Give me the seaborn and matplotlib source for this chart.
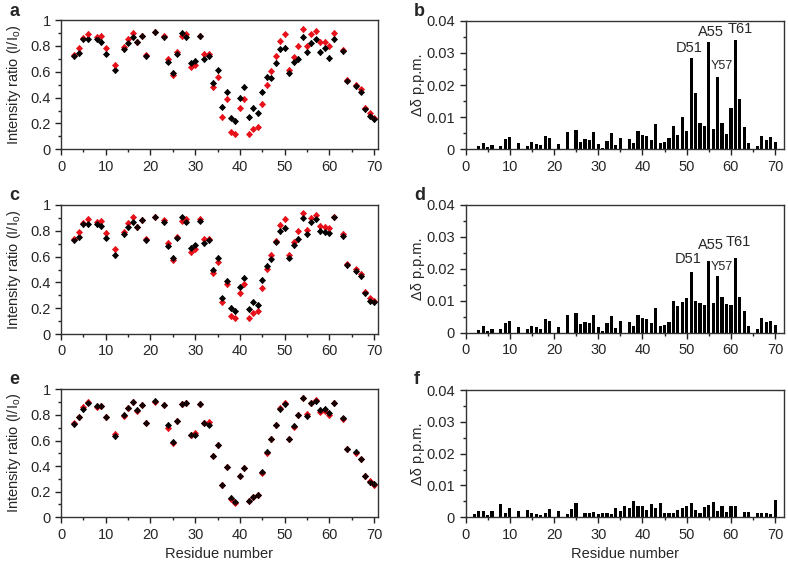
import numpy as np
import pandas as pd
import seaborn as sns
import matplotlib.pyplot as plt
from matplotlib.ticker import MultipleLocator, FormatStrFormatter

# residues with intensity data (panels a, c, e)
residues = [3, 4, 5, 6, 8, 9, 10, 12, 14, 15, 16, 17, 18, 19, 21, 23, 24, 25, 26, 27,
            28, 29, 30, 31, 32, 33, 34, 35, 36, 37, 38, 39, 40, 41, 42, 43, 44, 45, 46, 47,
            48, 49, 50, 51, 52, 53, 54, 55, 56, 57, 58, 59, 60, 61, 63, 64, 66, 67, 68, 69, 70]

a_black = [0.72, 0.747, 0.85, 0.85, 0.85, 0.83, 0.74, 0.61, 0.773, 0.825, 0.866, 0.83, 0.88, 0.724, 0.907, 0.865, 0.678, 0.588, 0.74, 0.897,
           0.87, 0.67, 0.685, 0.875, 0.698, 0.724, 0.515, 0.61, 0.33, 0.446, 0.245, 0.221, 0.40, 0.484, 0.247, 0.317, 0.278, 0.446, 0.56, 0.555,
           0.67, 0.773, 0.786, 0.588, 0.675, 0.696, 0.871, 0.755, 0.82, 0.85, 0.755, 0.781, 0.708, 0.853, 0.76, 0.531, 0.49, 0.446, 0.309, 0.26, 0.232]
a_red = [0.73, 0.785, 0.86, 0.894, 0.87, 0.88, 0.78, 0.65, 0.79, 0.855, 0.90, 0.83, 0.88, 0.73, 0.91, 0.875, 0.70, 0.572, 0.755, 0.875,
         0.895, 0.64, 0.655, 0.88, 0.735, 0.735, 0.48, 0.556, 0.252, 0.389, 0.136, 0.118, 0.317, 0.387, 0.118, 0.16, 0.175, 0.348, 0.497, 0.608,
         0.72, 0.84, 0.889, 0.613, 0.711, 0.799, 0.93, 0.799, 0.889, 0.917, 0.832, 0.83, 0.799, 0.897, 0.77, 0.535, 0.50, 0.463, 0.317, 0.278, 0.245]

c_black = [0.726, 0.749, 0.853, 0.853, 0.855, 0.837, 0.747, 0.612, 0.775, 0.827, 0.866, 0.832, 0.884, 0.729, 0.91, 0.868, 0.685, 0.589, 0.747, 0.904,
           0.871, 0.669, 0.687, 0.879, 0.703, 0.729, 0.50, 0.587, 0.276, 0.411, 0.204, 0.178, 0.367, 0.437, 0.191, 0.251, 0.225, 0.419, 0.527, 0.581,
           0.716, 0.801, 0.824, 0.592, 0.69, 0.736, 0.902, 0.775, 0.866, 0.891, 0.801, 0.793, 0.78, 0.904, 0.762, 0.535, 0.491, 0.452, 0.315, 0.258, 0.248]
c_red = [0.735, 0.788, 0.86, 0.894, 0.871, 0.879, 0.786, 0.656, 0.793, 0.858, 0.904, 0.83, 0.88, 0.736, 0.91, 0.881, 0.708, 0.574, 0.755, 0.879,
         0.891, 0.638, 0.656, 0.889, 0.736, 0.736, 0.475, 0.561, 0.25, 0.388, 0.142, 0.121, 0.315, 0.388, 0.121, 0.165, 0.178, 0.354, 0.501, 0.612,
         0.72, 0.845, 0.889, 0.612, 0.711, 0.798, 0.935, 0.806, 0.897, 0.922, 0.84, 0.832, 0.819, 0.91, 0.775, 0.54, 0.501, 0.465, 0.328, 0.276, 0.258]

e_black = [0.727, 0.781, 0.844, 0.896, 0.872, 0.872, 0.784, 0.635, 0.797, 0.857, 0.901, 0.836, 0.88, 0.74, 0.911, 0.88, 0.719, 0.589, 0.753, 0.883,
           0.891, 0.646, 0.646, 0.883, 0.74, 0.724, 0.482, 0.563, 0.253, 0.396, 0.154, 0.122, 0.326, 0.388, 0.13, 0.161, 0.174, 0.357, 0.513, 0.612,
           0.721, 0.844, 0.883, 0.612, 0.716, 0.80, 0.935, 0.792, 0.891, 0.911, 0.839, 0.844, 0.813, 0.891, 0.773, 0.534, 0.513, 0.453, 0.323, 0.273, 0.26]
e_red = [0.734, 0.781, 0.865, 0.9, 0.862, 0.872, 0.786, 0.651, 0.792, 0.852, 0.901, 0.831, 0.88, 0.74, 0.904, 0.88, 0.70, 0.578, 0.753, 0.883,
         0.891, 0.64, 0.661, 0.883, 0.74, 0.747, 0.482, 0.563, 0.253, 0.396, 0.143, 0.115, 0.326, 0.388, 0.13, 0.161, 0.174, 0.349, 0.50, 0.612,
         0.721, 0.852, 0.896, 0.612, 0.708, 0.80, 0.935, 0.805, 0.891, 0.92, 0.826, 0.833, 0.80, 0.896, 0.766, 0.534, 0.50, 0.453, 0.323, 0.284, 0.253]

# chemical shift perturbations (panels b, d)
res_bd = [3, 4, 5, 6, 8, 9, 10, 12, 14, 15, 16, 17, 18, 19, 21, 23,
          25, 26, 27, 28, 29, 30, 31, 32, 33, 34, 35,
          37, 38, 39, 40, 41, 42, 43, 44, 45, 46, 47, 48, 49, 50, 51, 52, 53, 54, 55, 56, 57, 58, 59, 60, 61, 62, 63, 64,
          66, 67, 68, 69, 70]
b_shift = [0.0011, 0.0021, 0.0006, 0.0012, 0.0011, 0.0031, 0.0037, 0.0019, 0.0011, 0.0022, 0.0018, 0.0012, 0.0041, 0.0035, 0.0016, 0.0055,
           0.0061, 0.0024, 0.0031, 0.003, 0.0054, 0.0017, 0.0004, 0.0027, 0.0052, 0.0012, 0.0034,
           0.0031, 0.0019, 0.0057, 0.0045, 0.0041, 0.0029, 0.0078, 0.0019, 0.0024, 0.0034, 0.0073, 0.0045, 0.0099, 0.0058, 0.0285, 0.0176, 0.0083,
           0.0073, 0.0333, 0.0063, 0.0226, 0.0081, 0.0048, 0.0127, 0.034, 0.0155, 0.007, 0.0021,
           0.001, 0.0041, 0.0029, 0.0037, 0.0024]
d_shift = [0.001, 0.0021, 0.0006, 0.0013, 0.0013, 0.0031, 0.0038, 0.0019, 0.0013, 0.0022, 0.0019, 0.0011, 0.0043, 0.0036, 0.0017, 0.0056,
           0.0063, 0.0026, 0.0033, 0.0029, 0.0055, 0.0019, 0.0006, 0.0029, 0.0053, 0.0016, 0.0037,
           0.0032, 0.0021, 0.0057, 0.0045, 0.0042, 0.0029, 0.0076, 0.0021, 0.0024, 0.0034, 0.0099, 0.0084, 0.0096, 0.011, 0.0191, 0.01, 0.0092,
           0.0087, 0.0226, 0.0094, 0.0179, 0.0113, 0.0089, 0.0087, 0.0235, 0.0111, 0.0068, 0.0022,
           0.0011, 0.0045, 0.0034, 0.0038, 0.0024]

# panel f
res_f = [2, 3, 4, 5, 6, 8, 9, 10, 12, 14, 15, 16, 17, 18, 19, 21, 23, 24, 25,
         27, 28, 29, 30, 31, 32, 33, 34, 35, 36, 37, 38, 39, 40, 41, 42, 43, 44, 45, 46, 47, 48, 49, 50,
         51, 52, 53, 54, 55, 56, 57, 58, 59, 60, 61, 63, 64, 66, 67, 68, 69, 70]
f_shift = [0.001, 0.0021, 0.0021, 0.0006, 0.0021, 0.0042, 0.0013, 0.003, 0.0021, 0.0023, 0.0013, 0.001, 0.0008, 0.0015, 0.0027, 0.0021, 0.001, 0.0027, 0.0046,
           0.0015, 0.0013, 0.0016, 0.001, 0.0015, 0.0013, 0.001, 0.0028, 0.0021, 0.0036, 0.0028, 0.0052, 0.0036, 0.0036, 0.0023, 0.0042, 0.003, 0.0044, 0.0013,
           0.0015, 0.0013, 0.0023, 0.0028, 0.0034, 0.0044, 0.0023, 0.0015, 0.0031, 0.0039, 0.0048, 0.0021, 0.0037, 0.0018, 0.0036, 0.0036,
           0.0018, 0.0018, 0.0013, 0.0015, 0.0015, 0.001, 0.0054]

# labelled residues: (text, x, y) per panel
b_labels = [("D51", 50.6, 0.0294), ("A55", 55.6, 0.0343), ("Y57", 57.9, 0.0239), ("T61", 62.1, 0.0353)]
d_labels = [("D51", 50.3, 0.0208), ("A55", 55.4, 0.0254), ("Y57", 57.9, 0.0187), ("T61", 61.6, 0.0262)]

ERR = 0.022

sns.set_style("ticks")
plt.rcParams['font.family'] = ['Liberation Sans', 'DejaVu Sans']
plt.rcParams['mathtext.fontset'] = 'custom'
plt.rcParams['mathtext.rm'] = 'Liberation Sans'

fig = plt.figure(figsize=(7.88, 5.65), dpi=100)
W, H = 788, 565


def add_ax(left, right, top, bottom):
    return fig.add_axes([left / W, 1 - bottom / H, (right - left) / W, (bottom - top) / H])


def style(ax, xmax):
    ax.set_xlim(0, xmax)
    ax.xaxis.set_major_locator(MultipleLocator(10))
    ax.xaxis.set_minor_locator(MultipleLocator(5))
    ax.tick_params(which='major', direction='out', length=4, width=1, labelsize=10.5,
                   top=False, right=False, color='#222222')
    ax.tick_params(which='minor', direction='out', length=2.5, width=1, top=False, right=False,
                   color='#222222')
    for s in ax.spines.values():
        s.set_linewidth(1)
        s.set_color('#333333')
    ax.set_xlabel("")


def intensity(ax, black, red):
    df = pd.DataFrame({"res": residues, "black": black, "red": red})
    ax.errorbar(df["res"], df["red"], yerr=ERR, fmt='none', ecolor='#e8101a', elinewidth=1, capsize=0)
    sns.scatterplot(data=df, x="res", y="red", color='#e8101a', marker='D', s=13, linewidth=0, ax=ax)
    ax.errorbar(df["res"], df["black"], yerr=ERR, fmt='none', ecolor='black', elinewidth=1, capsize=0)
    sns.scatterplot(data=df, x="res", y="black", color='black', marker='D', s=13, linewidth=0, ax=ax)
    style(ax, 70.8)
    ax.set_ylim(0, 1)
    ax.yaxis.set_major_locator(MultipleLocator(0.2))
    ax.yaxis.set_minor_locator(MultipleLocator(0.1))
    ax.yaxis.set_major_formatter(FormatStrFormatter('%g'))
    ax.set_ylabel("Intensity ratio (I/I$_\\mathregular{o}$)", fontsize=10.5, labelpad=5)


def shifts(ax, res, vals, labels):
    sns.barplot(x=res, y=vals, native_scale=True, color='black', saturation=1,
                width=0.72, errorbar=None, linewidth=0, ax=ax)
    style(ax, 72)
    ax.set_ylim(0, 0.04)
    ax.yaxis.set_major_locator(MultipleLocator(0.01))
    ax.yaxis.set_minor_locator(MultipleLocator(0.005))
    ax.yaxis.set_major_formatter(FormatStrFormatter('%g'))
    ax.set_ylabel("\u0394\u03b4 p.p.m.", fontsize=10.5, labelpad=1)
    for txt, x, y in labels:
        ax.text(x, y, txt, ha='center', va='bottom',
                fontsize=10.5 if txt != "Y57" else 9)


ax_a = add_ax(61, 377.7, 20, 149.3)
ax_b = add_ax(465.5, 784, 20.7, 149.3)
ax_c = add_ax(61, 377.7, 205, 334)
ax_d = add_ax(465.5, 784, 205, 332.7)
ax_e = add_ax(61, 377.7, 389.3, 517.3)
ax_f = add_ax(465.5, 784, 390, 517.3)

intensity(ax_a, a_black, a_red)
intensity(ax_c, c_black, c_red)
intensity(ax_e, e_black, e_red)
shifts(ax_b, res_bd, b_shift, b_labels)
shifts(ax_d, res_bd, d_shift, d_labels)
shifts(ax_f, res_f, f_shift, [])

ax_e.set_xlabel("Residue number", fontsize=10.5)
ax_f.set_xlabel("Residue number", fontsize=10.5)

for letter, x, y in [("a", 9, 3), ("b", 414, 3), ("c", 9, 187), ("d", 414, 187), ("e", 9, 371), ("f", 414, 371)]:
    fig.text(x / W, 1 - y / H, letter, fontsize=13, fontweight='bold', va='top', ha='left')

fig.savefig("out.png", dpi=100)
